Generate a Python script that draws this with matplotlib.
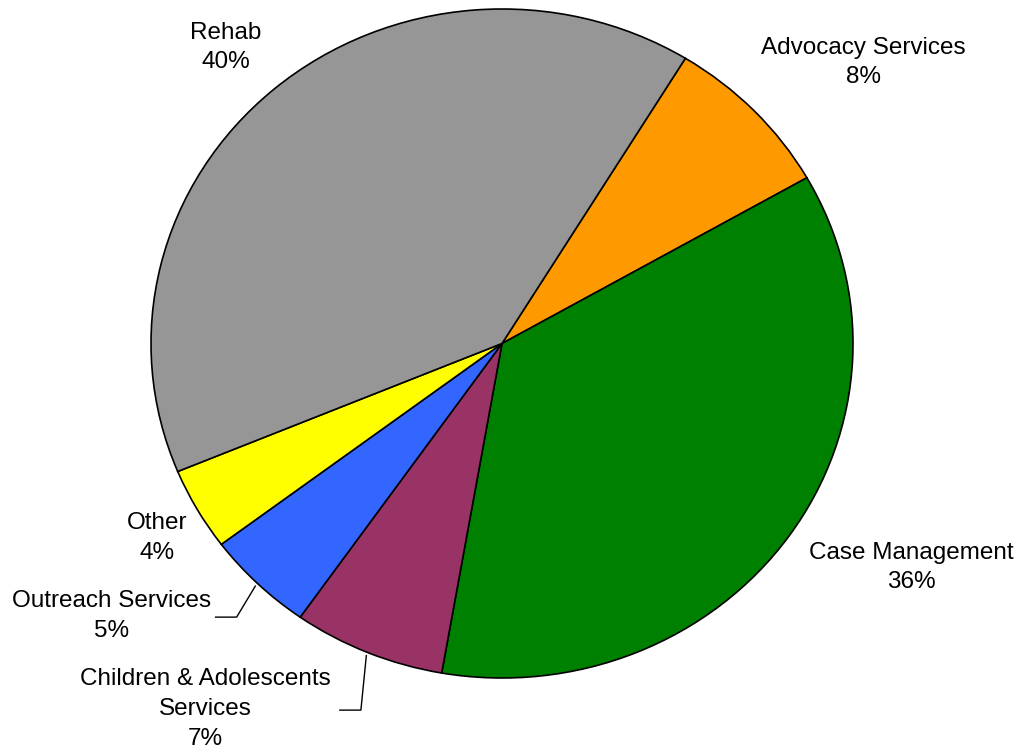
import numpy as np
import matplotlib.pyplot as plt

plt.rcParams['font.family'] = ['Liberation Sans', 'DejaVu Sans']

# slices in clockwise order, starting at the top right
labels = ['Advocacy Services', 'Case Management', 'Children & Adolescents\nServices',
          'Outreach Services', 'Other', 'Rehab']
shares = [8, 36, 7, 5, 4, 40]
colors = ['#FF9900', '#008000', '#993366', '#3366FF', '#FFFF00', '#969696']

# label centres (axes data units) and optional leader-line elbows
label_pos = [(1.03, 0.84), (1.165, -0.67), (-0.846, -1.093),
             (-1.111, -0.814), (-0.983, -0.581), (-0.786, 0.885)]
elbows = [None, None, (-0.402, -1.096), (-0.756, -0.818), None, None]
startangle = 58.5

fig = plt.figure(figsize=(10.22, 7.5), dpi=100)
ax = fig.add_axes([151 / 1022, 72 / 750, 702 / 1022, 669 / 750])

wedges, _ = ax.pie(shares, colors=colors, startangle=startangle, counterclock=False,
                   wedgeprops=dict(edgecolor='black', linewidth=1.2))
for w in wedges:
    w.set_clip_on(False)
ax.set_aspect('auto')
ax.set_xlim(-1, 1)
ax.set_ylim(-1, 1)

for w, lab, val, pos, elbow in zip(wedges, labels, shares, label_pos, elbows):
    ax.text(pos[0], pos[1], f'{lab}\n{val}%', ha='center', va='center',
            fontsize=17.5, linespacing=1.45, clip_on=False)
    if elbow is not None:
        # leader line from the middle of the slice edge, bent to horizontal
        mid = np.deg2rad((w.theta1 + w.theta2) / 2)
        x0, y0 = 1.01 * np.cos(mid), 1.01 * np.sin(mid)
        ax.plot([x0, elbow[0], elbow[0] - 0.06], [y0, elbow[1], elbow[1]],
                color='black', linewidth=1.0, clip_on=False)

fig.savefig('out.png', dpi=100)
